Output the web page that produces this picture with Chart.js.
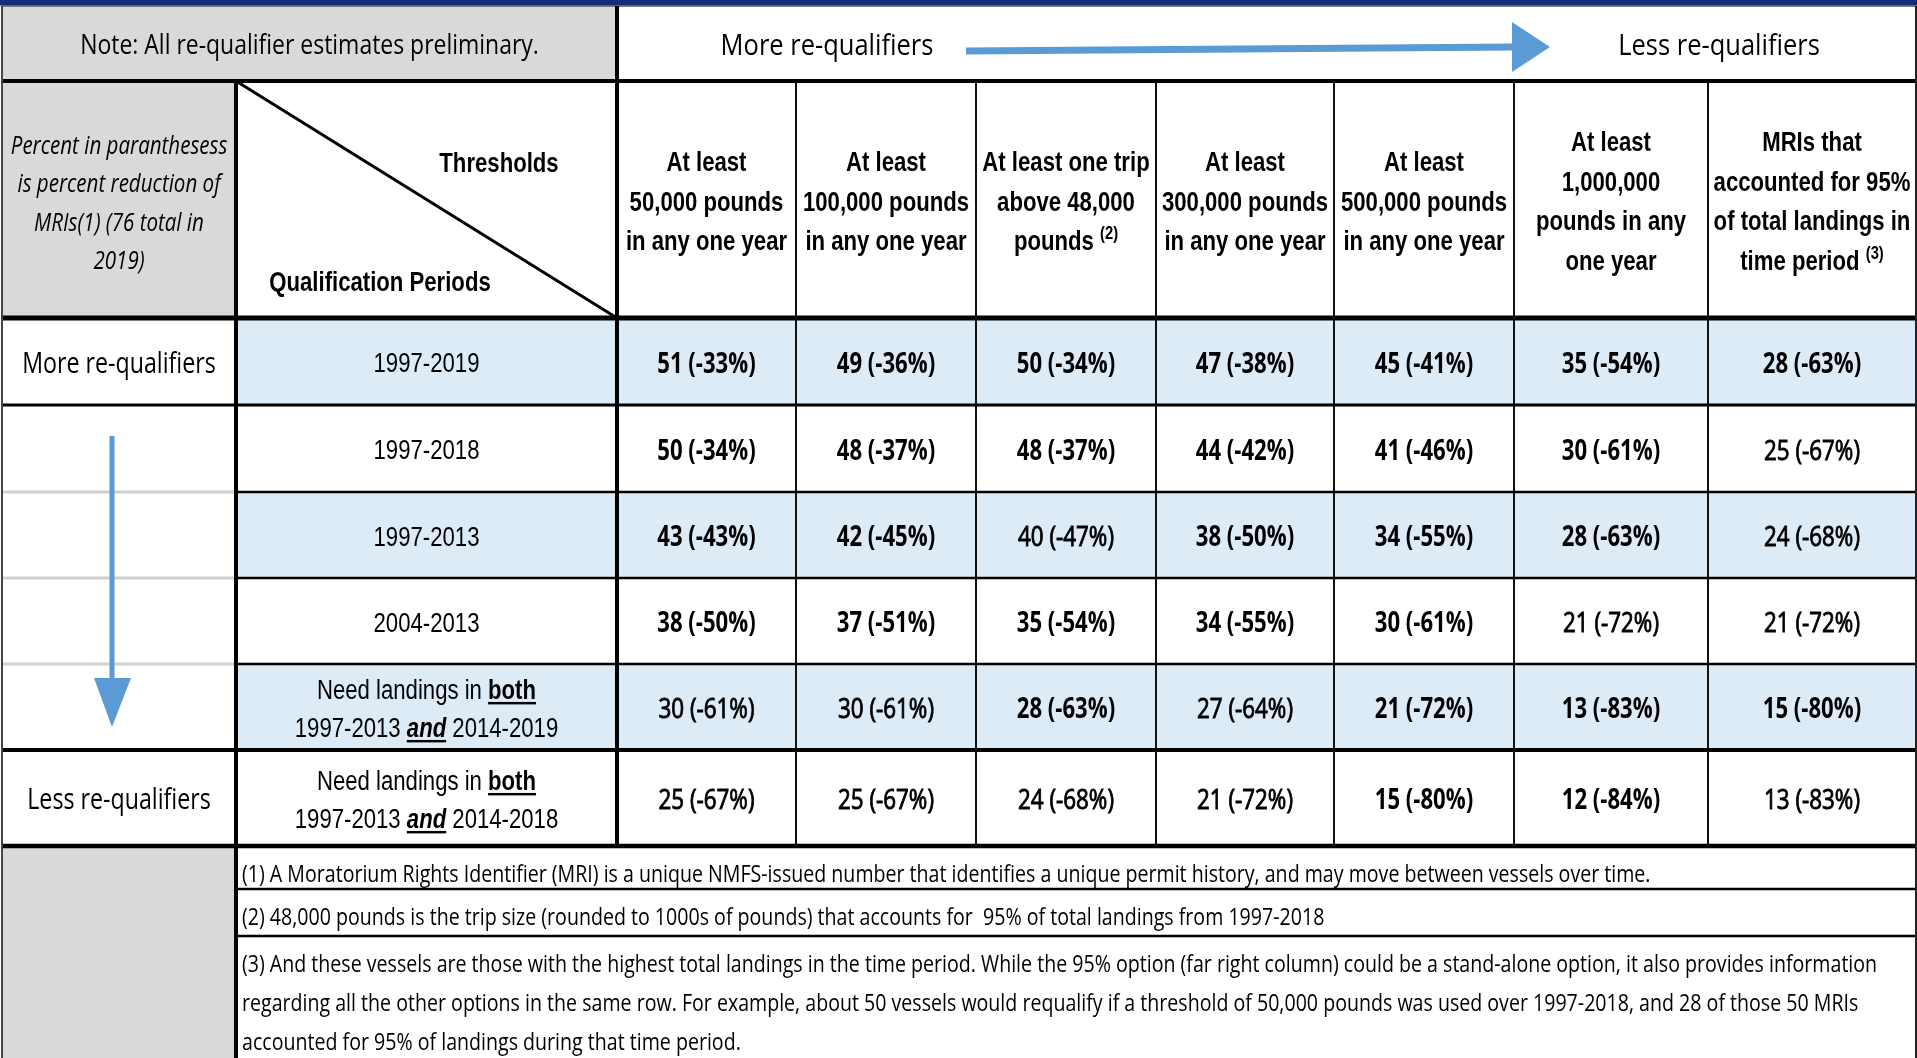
<!DOCTYPE html>
<html>
<head>
<meta charset="utf-8">
<script src="https://cdn.jsdelivr.net/npm/chart.js@4.4.0/dist/chart.umd.min.js"></script>
<style>
  html, body { margin: 0; padding: 0; background: #fff; overflow: hidden; }
  #wrap { width: 1917px; height: 1058px; position: relative; }
</style>
</head>
<body>
<div id="wrap"><canvas id="tabela"></canvas></div>
<script>
// ---- data ----
const note = "Note: All re-qualifier estimates preliminary.";
const moreLabel = "More re-qualifiers";
const lessLabel = "Less re-qualifiers";
const percentNote = ["Percent in paranthesess", "is percent reduction of", "MRIs(1) (76 total in", "2019)"];
const cornerTop = "Thresholds";
const cornerBottom = "Qualification Periods";

// *x* = bold underlined, _x_ = bold italic underlined, ^x = superscript
const thresholds = [
  ["At least", "50,000 pounds", "in any one year"],
  ["At least", "100,000 pounds", "in any one year"],
  ["At least one trip", "above 48,000", "pounds ^(2)"],
  ["At least", "300,000 pounds", "in any one year"],
  ["At least", "500,000 pounds", "in any one year"],
  ["At least", "1,000,000", "pounds in any", "one year"],
  ["MRIs that", "accounted for 95%", "of total landings in", "time period ^(3)"]
];

const periods = [
  ["1997-2019"],
  ["1997-2018"],
  ["1997-2013"],
  ["2004-2013"],
  ["Need landings in *both*", "1997-2013 _and_ 2014-2019"],
  ["Need landings in *both*", "1997-2013 _and_ 2014-2018"]
];

const mriCounts = [
  [51, 49, 50, 47, 45, 35, 28],
  [50, 48, 48, 44, 41, 30, 25],
  [43, 42, 40, 38, 34, 28, 24],
  [38, 37, 35, 34, 30, 21, 21],
  [30, 30, 28, 27, 21, 13, 15],
  [25, 25, 24, 21, 15, 12, 13]
];

const pctReduction = [
  [-33, -36, -34, -38, -41, -54, -63],
  [-34, -37, -37, -42, -46, -61, -67],
  [-43, -45, -47, -50, -55, -63, -68],
  [-50, -51, -54, -55, -61, -72, -72],
  [-61, -61, -63, -64, -72, -83, -80],
  [-67, -67, -68, -72, -80, -84, -83]
];

const footnotes = [
  ["(1) A Moratorium Rights Identifier (MRI) is a unique NMFS-issued number that identifies a unique permit history, and may move between vessels over time."],
  ["(2) 48,000 pounds is the trip size (rounded to 1000s of pounds) that accounts for  95% of total landings from 1997-2018"],
  ["(3) And these vessels are those with the highest total landings in the time period. While the 95% option (far right column) could be a stand-alone option, it also provides information",
   "regarding all the other options in the same row. For example, about 50 vessels would requalify if a threshold of 50,000 pounds was used over 1997-2018, and 28 of those 50 MRIs",
   "accounted for 95% of landings during that time period."]
];

// ---- layout / style ----
const colEdges = [2, 236, 617, 796, 976, 1156, 1334, 1514, 1708, 1916];
const rowEdges = [6, 81, 318, 405, 492, 578, 664, 750, 846, 889, 936, 1058];
const boldCells = [
  [1, 1, 1, 1, 1, 1, 1],
  [1, 1, 1, 1, 1, 1, 0],
  [1, 1, 0, 1, 1, 1, 0],
  [1, 1, 1, 1, 1, 0, 0],
  [0, 0, 1, 0, 1, 1, 1],
  [0, 0, 0, 0, 1, 1, 0]
];
const GRAY = "#d9d9d9";
const BLUE_ROW = "#ddebf7";
const ARROW = "#5b9bd5";

function hasFont(name) {
  const c = document.createElement("canvas").getContext("2d");
  c.font = "40px monospace";
  const a = c.measureText("1997-2019 abcW").width;
  c.font = `40px "${name}", monospace`;
  return c.measureText("1997-2019 abcW").width !== a;
}
const narrowOk = hasFont("Liberation Sans Narrow");
const NAR = narrowOk ? '"Liberation Sans Narrow", "Liberation Sans", sans-serif' : '"Liberation Sans", Arial, sans-serif';
const narSx = narrowOk ? 1 : 0.82;
const CAL = '"Open Sans", "Noto Sans", sans-serif';

const stHead = { family: NAR, size: 27, weight: "bold", sx: narSx };
const stPeriod = { family: NAR, size: 27, weight: "normal", sx: narSx };
const stValue = { family: CAL, size: 28, weight: "bold", sx: 0.79 };
const stValueReg = { family: CAL, size: 28, weight: "normal", sx: 0.8, stroke: 0.9 };
const stNote = { family: CAL, size: 28, weight: "normal", sx: 0.82 };
const stTop = { family: CAL, size: 30, weight: "normal", sx: 0.85 };
const stSide = { family: CAL, size: 29, weight: "normal", sx: 0.8 };
const stItalic = { family: CAL, size: 26, weight: "normal", italic: true, sx: 0.79 };
const stFoot = { family: CAL, size: 23, weight: "normal", sx: 0.852 };

// ---- rich text helpers ----
function segs(line) {
  return line.split(/(\*[^*]+\*|_[^_]+_|\^\S+)/).filter(s => s).map(s => {
    if (s[0] === "*") return { t: s.slice(1, -1), bold: true, ul: true };
    if (s[0] === "_") return { t: s.slice(1, -1), bold: true, it: true, ul: true };
    if (s[0] === "^") return { t: s.slice(1), sup: true, bold: true };
    return { t: s };
  });
}

function fontOf(st, p) {
  const w = p.bold ? "bold" : st.weight;
  const i = (p.it || st.italic) ? "italic " : "";
  const size = p.sup ? Math.round(st.size * 0.66) : st.size;
  return `${i}${w} ${size}px ${st.family}`;
}

function drawLine(ctx, line, x, yc, st, align) {
  const parts = segs(line);
  let total = 0;
  parts.forEach(p => {
    ctx.font = fontOf(st, p);
    p.w = ctx.measureText(p.t).width * st.sx;
    total += p.w;
  });
  let cur = align === "left" ? x : x - total / 2;
  const base = yc + st.size * 0.36;
  parts.forEach(p => {
    ctx.font = fontOf(st, p);
    const yy = p.sup ? base - st.size * 0.42 : base;
    ctx.save();
    ctx.translate(cur, yy);
    ctx.scale(st.sx, 1);
    ctx.textAlign = "left";
    ctx.textBaseline = "alphabetic";
    ctx.fillText(p.t, 0, 0);
    if (st.stroke) {
      ctx.strokeStyle = ctx.fillStyle;
      ctx.lineWidth = st.stroke;
      ctx.strokeText(p.t, 0, 0);
    }
    ctx.restore();
    if (p.ul) ctx.fillRect(cur, base + st.size * 0.12, p.w, Math.max(2, st.size * 0.09));
    cur += p.w;
  });
}

function drawBlock(ctx, lines, x, yc, st, gap, align) {
  const top = yc - (lines.length - 1) * gap / 2;
  lines.forEach((l, i) => drawLine(ctx, l, x, top + i * gap, st, align));
}

// ---- points for the value cells ----
const cellPoints = [];
mriCounts.forEach((row, r) => {
  row.forEach((v, c) => {
    cellPoints.push({
      x: (colEdges[c + 2] + colEdges[c + 3]) / 2,
      y: (rowEdges[r + 2] + rowEdges[r + 3]) / 2,
      label: `${v} (${pctReduction[r][c]}%)`,
      bold: boldCells[r][c] === 1
    });
  });
});

const tablePlugin = {
  id: "tablePlugin",
  beforeDatasetsDraw(chart) {
    const ctx = chart.ctx;
    const X = v => chart.scales.x.getPixelForValue(v);
    const Y = v => chart.scales.y.getPixelForValue(v);
    const rect = (x1, y1, x2, y2, color) => {
      ctx.fillStyle = color;
      ctx.fillRect(X(x1), Y(y1), X(x2) - X(x1), Y(y2) - Y(y1));
    };
    const hLine = (y, x1, x2, w, color) => {
      ctx.fillStyle = color || "#000";
      ctx.fillRect(X(x1) - 1, Y(y) - w / 2, X(x2) - X(x1) + 2, w);
    };
    const vLine = (x, y1, y2, w, color) => {
      ctx.fillStyle = color || "#000";
      ctx.fillRect(X(x) - w / 2, Y(y1), w, Y(y2) - Y(y1));
    };
    const L = colEdges[0], R = colEdges[colEdges.length - 1];

    ctx.save();
    rect(0, 0, 1917, 1058, "#fff");
    // top band
    rect(0, 0, 1917, 5, "#182a7c");
    rect(0, 5, 1917, 6, "#8a8fa8");

    // backgrounds
    rect(L, rowEdges[0], colEdges[2], rowEdges[1], GRAY);
    rect(L, rowEdges[1], colEdges[1], rowEdges[2], GRAY);
    rect(L, rowEdges[8], colEdges[1], rowEdges[11], GRAY);
    for (let r = 0; r < 6; r += 2) rect(colEdges[1], rowEdges[r + 2], R, rowEdges[r + 3], BLUE_ROW);

    // horizontal borders
    hLine(rowEdges[0], L, R, 1.5, "#555");
    hLine(rowEdges[1], L, R, 4);
    hLine(rowEdges[2], L, R, 5);
    hLine(rowEdges[3], L, R, 3);
    [4, 5, 6].forEach(i => {
      hLine(rowEdges[i], L, colEdges[1], 3, "#d0d0d0");
      hLine(rowEdges[i], colEdges[1], R, 2.5);
    });
    hLine(rowEdges[7], L, R, 4);
    hLine(rowEdges[8], L, R, 4.5);
    hLine(rowEdges[9], colEdges[1], R, 2.5);
    hLine(rowEdges[10], colEdges[1], R, 2.5);

    // vertical borders
    vLine(L, rowEdges[0], rowEdges[11], 2, "#444");
    vLine(colEdges[1], rowEdges[1], rowEdges[11], 4);
    vLine(colEdges[2], rowEdges[0], rowEdges[8], 4);
    for (let c = 3; c < colEdges.length - 1; c++) vLine(colEdges[c], rowEdges[1], rowEdges[8], 2, "#111");
    vLine(R, rowEdges[0], rowEdges[11], 2, "#222");

    // diagonal in corner cell
    ctx.strokeStyle = "#000";
    ctx.lineWidth = 3;
    ctx.beginPath();
    ctx.moveTo(X(colEdges[1]), Y(rowEdges[1]));
    ctx.lineTo(X(colEdges[2]), Y(rowEdges[2]));
    ctx.stroke();

    // horizontal arrow (more -> less)
    ctx.fillStyle = ARROW;
    ctx.strokeStyle = ARROW;
    ctx.lineWidth = 7;
    ctx.beginPath();
    ctx.moveTo(X(966), Y(51));
    ctx.lineTo(X(1514), Y(47));
    ctx.stroke();
    ctx.beginPath();
    ctx.moveTo(X(1512), Y(22));
    ctx.lineTo(X(1550), Y(47));
    ctx.lineTo(X(1512), Y(72));
    ctx.closePath();
    ctx.fill();

    // vertical arrow
    ctx.lineWidth = 5;
    ctx.beginPath();
    ctx.moveTo(X(112), Y(436));
    ctx.lineTo(X(112), Y(680));
    ctx.stroke();
    ctx.beginPath();
    ctx.moveTo(X(94), Y(678));
    ctx.lineTo(X(131), Y(678));
    ctx.lineTo(X(112), Y(727));
    ctx.closePath();
    ctx.fill();

    // texts
    ctx.fillStyle = "#000";
    const midCol0 = X((colEdges[0] + colEdges[1]) / 2);
    drawLine(ctx, note, X((colEdges[0] + colEdges[2]) / 2), Y(44), stNote);
    drawLine(ctx, moreLabel, X(827), Y(44), stTop);
    drawLine(ctx, lessLabel, X(1719), Y(44), stTop);
    drawBlock(ctx, percentNote, midCol0, Y(202), stItalic, 38.5);
    drawLine(ctx, cornerTop, X(499), Y(162), stHead);
    drawLine(ctx, cornerBottom, X(380), Y(281), stHead);

    thresholds.forEach((lines, c) => {
      drawBlock(ctx, lines, X((colEdges[c + 2] + colEdges[c + 3]) / 2), Y(201), stHead, 39.5);
    });
    periods.forEach((lines, r) => {
      drawBlock(ctx, lines, X((colEdges[1] + colEdges[2]) / 2),
        Y((rowEdges[r + 2] + rowEdges[r + 3]) / 2 + 1), stPeriod, 38);
    });
    drawLine(ctx, moreLabel, midCol0, Y((rowEdges[2] + rowEdges[3]) / 2 + 1), stSide);
    drawLine(ctx, lessLabel, midCol0, Y((rowEdges[7] + rowEdges[8]) / 2 + 1), stSide);

    footnotes.forEach((lines, i) => {
      lines.forEach((l, k) => {
        drawLine(ctx, l, X(colEdges[1] + 6), Y(rowEdges[i + 8] + 28 + k * 39), stFoot, "left");
      });
    });
    ctx.restore();
  },
  afterDatasetsDraw(chart) {
    const ctx = chart.ctx;
    const meta = chart.getDatasetMeta(0);
    const ds = chart.data.datasets[0].data;
    ctx.save();
    ctx.fillStyle = "#000";
    meta.data.forEach((pt, i) => {
      drawLine(ctx, ds[i].label, pt.x, pt.y + 1, ds[i].bold ? stValue : stValueReg);
    });
    ctx.restore();
  }
};

new Chart(document.getElementById("tabela"), {
  type: "scatter",
  data: {
    datasets: [{
      data: cellPoints,
      pointRadius: 0,
      pointHoverRadius: 0
    }]
  },
  options: {
    responsive: true,
    maintainAspectRatio: false,
    animation: false,
    events: [],
    layout: { padding: 0 },
    plugins: {
      legend: { display: false },
      tooltip: { enabled: false }
    },
    scales: {
      x: { type: "linear", min: 0, max: 1917, display: false },
      y: { type: "linear", min: 0, max: 1058, reverse: true, display: false }
    }
  },
  plugins: [tablePlugin]
});
</script>
</body>
</html>
